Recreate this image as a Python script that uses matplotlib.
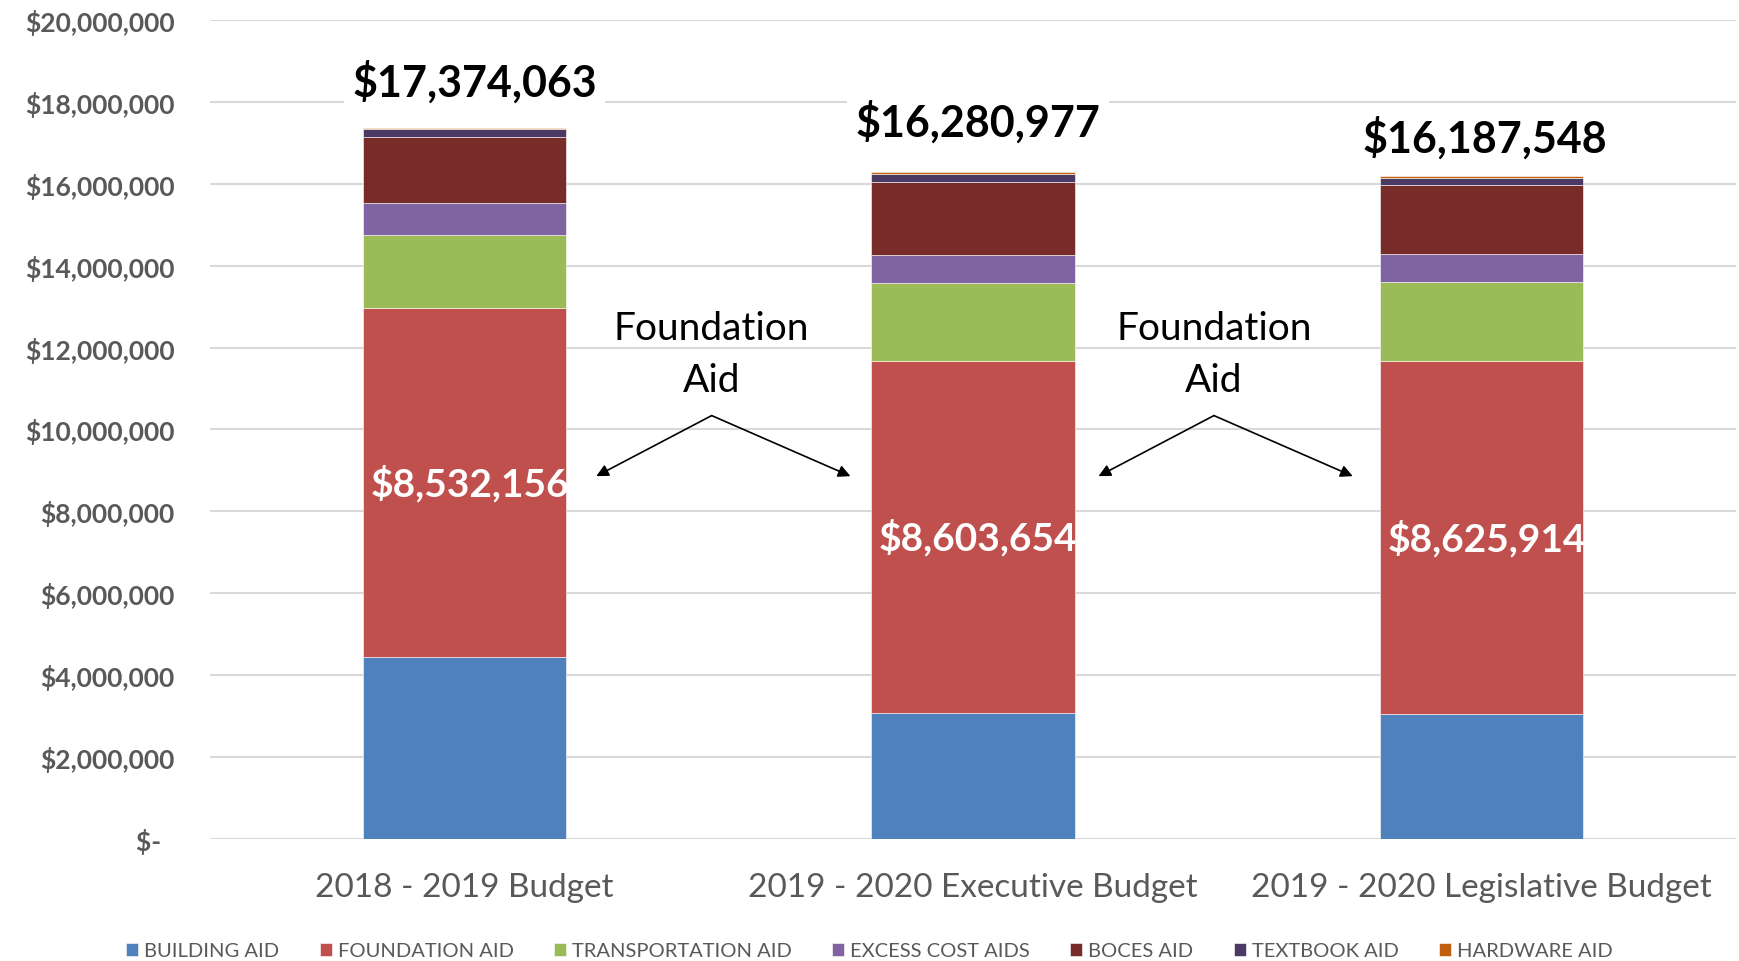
import matplotlib.pyplot as plt
import numpy as np

# Donnees (en dollars)
budgets = ['2018 - 2019 Budget', '2019 - 2020 Executive Budget', '2019 - 2020 Legislative Budget']
totaux = [17374063, 16280977, 16187548]

building = [4440000, 3070000, 3050000]
foundation = [8532156, 8603654, 8625914]
transport = [1790000, 1910000, 1930000]
excess = [760000, 680000, 670000]
boces = [1630000, 1780000, 1700000]
textbook = [190000, 190000, 180000]
hardware = [31907, 47323, 31634]

series = [
    ('BUILDING AID', building, '#4F81BD'),
    ('FOUNDATION AID', foundation, '#C0504D'),
    ('TRANSPORTATION AID', transport, '#9BBB59'),
    ('EXCESS COST AIDS', excess, '#8064A2'),
    ('BOCES AID', boces, '#772C2A'),
    ('TEXTBOOK AID', textbook, '#4B3B64'),
    ('HARDWARE AID', hardware, '#C0600F'),
]

plt.rcParams['font.family'] = ['Lato', 'DejaVu Sans']
gris = '#595959'

fig = plt.figure(figsize=(17.39, 9.62), dpi=100)
ax = fig.add_axes([0.121, 0.127, 0.877, 0.851])

x = np.arange(len(budgets))
largeur = 0.4
bas = np.zeros(len(budgets))
for nom, vals, couleur in series:
    ax.bar(x, vals, largeur, bottom=bas, color=couleur, label=nom,
           edgecolor='white', linewidth=0.4, zorder=3)
    if nom == 'FOUNDATION AID':
        for i in range(len(x)):
            ax.text(x[i] + 0.01, bas[i] + vals[i] / 2, f'${vals[i]:,}', color='white',
                    fontsize=28, fontweight='bold', ha='center', va='center', zorder=4)
    bas += np.array(vals)

# Totaux au-dessus des barres (placement manuel comme dans l'original)
decal_x = [0.02, 0.01, 0.006]
decal_y = [1.13e6, 1.25e6, 0.96e6]
for i in range(len(x)):
    ax.text(x[i] + decal_x[i], totaux[i] + decal_y[i], f'${totaux[i]:,}', fontsize=31,
            fontweight='bold', ha='center', va='center', zorder=4,
            bbox=dict(facecolor='white', edgecolor='none', pad=6))

# Annotations "Foundation Aid"
for xc in [0.486, 1.474]:
    ax.text(xc, 11.85e6, 'Foundation\nAid', fontsize=28, ha='center', va='center',
            linespacing=1.55)
    for dx in [-0.227, 0.273]:
        ax.annotate('', xy=(xc + dx, 8.86e6), xytext=(xc, 10.34e6),
                    arrowprops=dict(arrowstyle='-|>', color='black', lw=1.2,
                                    mutation_scale=18, shrinkA=0, shrinkB=0))

ax.set_xlim(-0.5, 2.5)
ax.set_ylim(0, 20e6)
ax.set_yticks(np.arange(0, 20e6 + 1, 2e6))
ax.set_yticklabels(['$-  '] + [f'${v:,.0f}' for v in np.arange(2e6, 20e6 + 1, 2e6)])
ax.set_xticks(x)
ax.set_xticklabels(budgets)
ax.tick_params(axis='y', length=0, pad=26, labelsize=19, labelcolor=gris)
ax.tick_params(axis='x', length=0, pad=24, labelsize=24, labelcolor=gris)
for lab in ax.get_yticklabels():
    lab.set_fontweight('bold')
ax.grid(axis='y', color='#D9D9D9', lw=1.5, zorder=0)
for s in ax.spines.values():
    s.set_visible(False)

fig.legend(loc='lower center', ncol=7, bbox_to_anchor=(0.5, -0.017), frameon=False,
           fontsize=14.5, handlelength=0.6, handleheight=0.6, handletextpad=0.3,
           columnspacing=2.0, labelcolor=gris)

plt.savefig('out.png', dpi=100)
